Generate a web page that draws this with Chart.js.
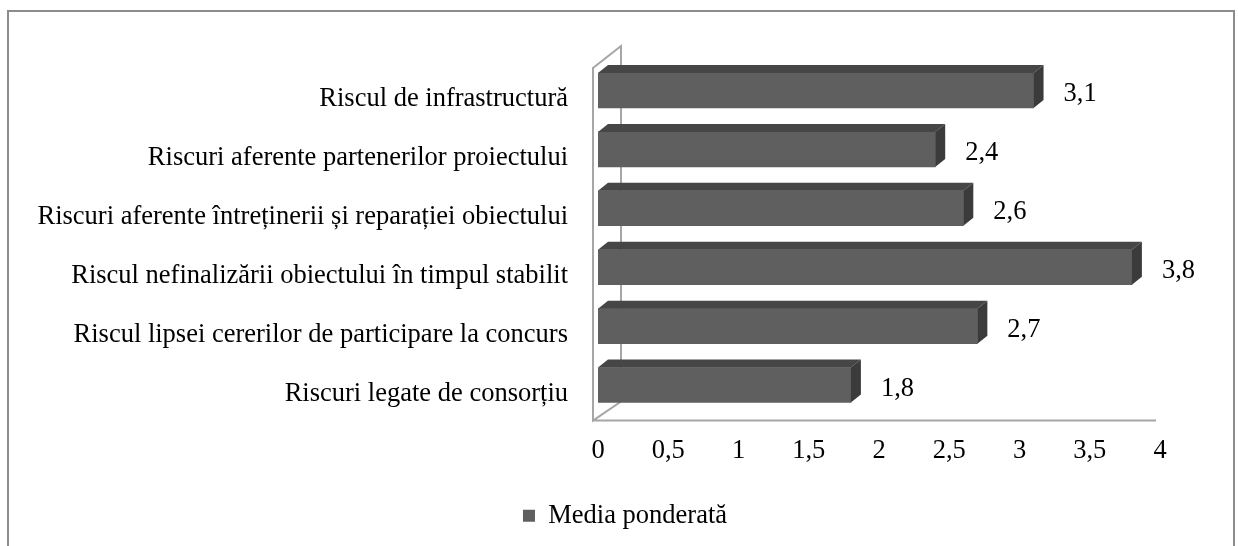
<!DOCTYPE html>
<html>
<head>
<meta charset="utf-8">
<script src="https://cdn.jsdelivr.net/npm/chart.js@4"></script>
<style>
  body { margin: 0; background: #fff; }
  #wrap { width: 1238px; height: 546px; }
</style>
</head>
<body>
<div id="wrap"><canvas id="graficRiscuri"></canvas></div>
<script>
// Riscuri - media ponderata
const categorii = [
    'Riscul de infrastructură',
    'Riscuri aferente partenerilor proiectului',
    'Riscuri aferente întreținerii și reparației obiectului',
    'Riscul nefinalizării obiectului în timpul stabilit',
    'Riscul lipsei cererilor de participare la concurs',
    'Riscuri legate de consorțiu'
];

const media = [3.1, 2.4, 2.6, 3.8, 2.7, 1.8];

const axaX = [0, 0.5, 1, 1.5, 2, 2.5, 3, 3.5, 4];

const fontText = 'Liberation Serif';
const marime = 26.5;
const virgula = v => String(v).replace('.', ',');

// chenarul exterior
const chenar = {
    id: 'chenar',
    beforeDraw(chart) {
        const c = chart.ctx;
        c.save();
        c.fillStyle = '#fff';
        c.fillRect(0, 0, chart.width, chart.height);
        c.strokeStyle = '#8c8c8c';
        c.lineWidth = 2;
        c.beginPath();
        c.moveTo(8, 546);
        c.lineTo(8, 11);
        c.lineTo(1234, 11);
        c.lineTo(1234, 546);
        c.stroke();
        c.restore();
    }
};

// peretele din spate si podeaua (efect 3D)
const perete = {
    id: 'perete',
    beforeDatasetsDraw(chart) {
        const a = chart.chartArea;
        const c = chart.ctx;
        const xf = a.left - 5, xb = a.left + 23;
        c.save();
        c.strokeStyle = '#a6a6a6';
        c.lineWidth = 2;
        c.beginPath();
        c.moveTo(xb, a.top - 15);
        c.lineTo(xb, a.bottom - 13);
        c.lineTo(xf, a.bottom + 6);
        c.lineTo(xf, a.top + 7);
        c.closePath();
        c.moveTo(xf, a.bottom + 6);
        c.lineTo(a.right - 4, a.bottom + 6);
        c.stroke();
        c.restore();
    }
};

// fetele de sus si laterale ale barelor + valorile
const bare3d = {
    id: 'bare3d',
    afterDatasetsDraw(chart) {
        const c = chart.ctx;
        const dx = 10, dy = 8;
        const meta = chart.getDatasetMeta(0);
        c.save();
        meta.data.forEach((bar, i) => {
            const p = bar.getProps(['x', 'y', 'base', 'height'], true);
            const sus = p.y - p.height / 2, jos = p.y + p.height / 2;
            c.fillStyle = '#464646';
            c.beginPath();
            c.moveTo(p.base, sus);
            c.lineTo(p.base + dx, sus - dy);
            c.lineTo(p.x + dx, sus - dy);
            c.lineTo(p.x, sus);
            c.closePath();
            c.fill();
            c.fillStyle = '#3b3b3b';
            c.beginPath();
            c.moveTo(p.x, sus);
            c.lineTo(p.x + dx, sus - dy);
            c.lineTo(p.x + dx, jos - dy);
            c.lineTo(p.x, jos);
            c.closePath();
            c.fill();

            c.fillStyle = '#000';
            c.font = marime + 'px "' + fontText + '"';
            c.textAlign = 'left';
            c.textBaseline = 'middle';
            c.fillText(virgula(media[i]), p.x + 30, p.y + 4);
        });
        c.restore();
    }
};

let ctx = document.getElementById('graficRiscuri').getContext('2d');

var chart = new Chart(ctx, {
    type: 'bar',
    data: {
        labels: categorii,
        datasets: [
            {
                label: 'Media ponderată',
                data: media,
                backgroundColor: '#5f5f5f',
                borderWidth: 0,
                barThickness: 35
            }
        ]
    },
    options: {
        indexAxis: 'y',
        responsive: true,
        maintainAspectRatio: false,
        animation: false,
        layout: { padding: { left: 12, right: 0, top: 61, bottom: 7 } },
        scales: {
            x: {
                min: 0,
                max: 4,
                afterBuildTicks(scale) {
                    scale.ticks = axaX.map(v => ({ value: v }));
                },
                afterFit(scale) { scale.height = 78; },
                grid: { display: false, drawTicks: false },
                border: { display: false },
                ticks: {
                    padding: 21,
                    color: '#000',
                    font: { family: fontText, size: marime },
                    callback: v => virgula(v)
                }
            },
            y: {
                afterFit(scale) { scale.width = 586; },
                grid: { display: false, drawTicks: false },
                border: { display: false },
                ticks: {
                    padding: 30,
                    labelOffset: 9,
                    color: '#000',
                    font: { family: fontText, size: marime }
                }
            },
            // spatiu liber in dreapta pentru etichetele valorilor
            dreapta: {
                axis: 'y',
                position: 'right',
                afterFit(scale) { scale.width = 78; },
                grid: { display: false, drawTicks: false },
                border: { display: false },
                ticks: { display: false }
            }
        },
        plugins: {
            legend: {
                position: 'bottom',
                labels: {
                    boxWidth: 12,
                    boxHeight: 12,
                    color: '#000',
                    font: { family: fontText, size: marime }
                }
            },
            tooltip: { enabled: false }
        }
    },
    plugins: [chenar, perete, bare3d]
});
</script>
</body>
</html>
